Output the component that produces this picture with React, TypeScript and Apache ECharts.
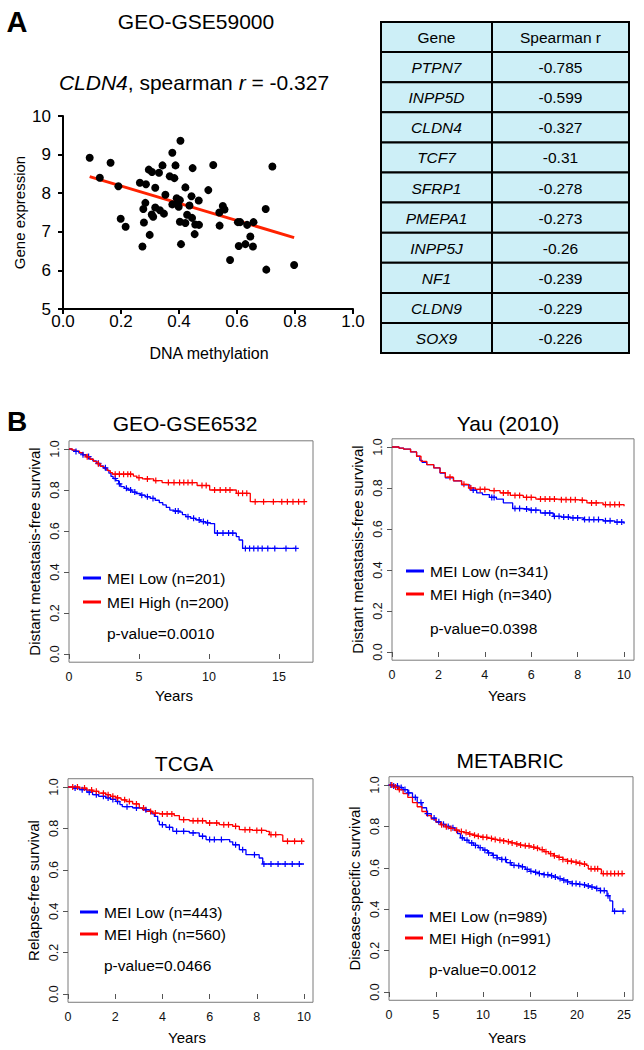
import React, { useEffect, useRef } from 'react';
import * as echarts from 'echarts';

const FONT = '"Liberation Sans", Arial, Helvetica, sans-serif';

// ---------- Panel A: scatter ----------
const methylation = [0.092, 0.127, 0.164, 0.191, 0.199, 0.216, 0.265, 0.286, 0.274, 0.277, 0.279, 0.284, 0.296, 0.307, 0.299, 0.306, 0.311, 0.318, 0.318, 0.331, 0.334, 0.343, 0.348, 0.353, 0.368, 0.377, 0.377, 0.384, 0.388, 0.392, 0.395, 0.399, 0.403, 0.405, 0.403, 0.407, 0.422, 0.422, 0.428, 0.436, 0.443, 0.445, 0.447, 0.454, 0.456, 0.469, 0.468, 0.501, 0.518, 0.539, 0.540, 0.551, 0.557, 0.576, 0.603, 0.606, 0.611, 0.629, 0.635, 0.646, 0.655, 0.657, 0.699, 0.701, 0.722, 0.797];
const expression = [8.92, 8.40, 8.79, 8.18, 7.34, 7.13, 8.27, 8.23, 6.62, 7.59, 7.24, 7.75, 8.61, 8.55, 6.92, 7.45, 7.39, 8.14, 7.63, 8.53, 7.56, 8.72, 7.47, 7.96, 8.44, 9.05, 7.71, 8.39, 8.72, 7.87, 7.74, 7.65, 7.82, 9.36, 7.26, 6.68, 8.15, 7.23, 7.44, 7.68, 7.92, 7.36, 8.65, 6.94, 7.19, 7.18, 7.81, 8.08, 8.73, 7.50, 7.16, 7.67, 7.58, 6.27, 7.25, 6.63, 7.25, 6.68, 7.18, 6.88, 6.62, 7.25, 7.59, 6.02, 8.69, 6.14];
const fitX = [0.092, 0.797];
const fitY = [8.43, 6.85];

const tableHeader = ['Gene', 'Spearman r'];
const tableGenes = ['PTPN7', 'INPP5D', 'CLDN4', 'TCF7', 'SFRP1', 'PMEPA1', 'INPP5J', 'NF1', 'CLDN9', 'SOX9'];
const tableR = ['-0.785', '-0.599', '-0.327', '-0.31', '-0.278', '-0.273', '-0.26', '-0.239', '-0.229', '-0.226'];

// ---------- Panel B: Kaplan-Meier ----------
const gseLow = [[0, 1], [0.2, 0.995], [0.45, 0.988], [0.7, 0.98], [0.95, 0.972], [1.2, 0.963], [1.45, 0.952], [1.7, 0.942], [1.95, 0.93], [2.2, 0.918], [2.45, 0.908], [2.65, 0.897], [2.85, 0.882], [3.0, 0.866], [3.15, 0.856], [3.35, 0.846], [3.55, 0.83], [3.7, 0.816], [3.95, 0.808], [4.2, 0.8], [4.5, 0.79], [4.8, 0.783], [5.1, 0.775], [5.45, 0.767], [5.8, 0.759], [6.15, 0.75], [6.45, 0.738], [6.7, 0.727], [6.95, 0.715], [7.2, 0.702], [7.5, 0.697], [7.9, 0.692], [8.1, 0.68], [8.35, 0.67], [8.7, 0.662], [9.05, 0.654], [9.4, 0.646], [9.75, 0.64], [10.1, 0.636], [10.4, 0.59], [11.95, 0.573], [12.15, 0.556], [12.4, 0.515], [16.2, 0.515]];
const gseHigh = [[0, 1], [0.25, 0.995], [0.5, 0.99], [0.75, 0.982], [1.0, 0.972], [1.25, 0.962], [1.5, 0.95], [1.75, 0.94], [2.0, 0.928], [2.25, 0.915], [2.5, 0.905], [2.75, 0.895], [2.95, 0.885], [3.1, 0.877], [4.6, 0.868], [4.85, 0.86], [5.25, 0.854], [6.05, 0.846], [6.65, 0.836], [9.15, 0.822], [10.05, 0.8], [11.95, 0.784], [12.95, 0.743], [16.8, 0.743]];
const gseLowCens = [0.5, 1.0, 1.4, 2.1, 2.6, 3.3, 3.6, 4.1, 4.4, 4.7, 5.2, 5.6, 6.0, 7.6, 7.8, 8.5, 8.9, 9.3, 9.6, 9.9, 10.6, 11.0, 11.4, 11.7, 12.6, 12.9, 13.2, 13.5, 13.8, 14.2, 14.7, 15.5, 16.2];
const gseHighCens = [1.3, 2.1, 3.3, 3.6, 3.9, 4.2, 4.4, 5.0, 5.6, 6.2, 7.1, 7.5, 7.9, 8.2, 8.5, 8.8, 9.5, 9.8, 10.4, 10.8, 11.2, 11.5, 12.1, 12.4, 12.7, 13.3, 13.9, 14.6, 15.2, 15.6, 16.0, 16.4, 16.8];

const yauLow = [[0, 1], [0.3, 0.995], [0.5, 0.99], [0.8, 0.976], [1.06, 0.955], [1.2, 0.935], [1.3, 0.925], [1.5, 0.914], [1.8, 0.898], [2.07, 0.873], [2.3, 0.85], [2.65, 0.835], [3.0, 0.815], [3.36, 0.79], [3.65, 0.776], [3.9, 0.768], [4.2, 0.754], [4.5, 0.746], [4.8, 0.727], [5.2, 0.7], [5.6, 0.697], [5.95, 0.692], [6.4, 0.678], [6.95, 0.662], [7.3, 0.658], [7.67, 0.654], [8.25, 0.646], [9.1, 0.64], [9.6, 0.634], [10.0, 0.626]];
const yauHigh = [[0, 1], [0.3, 0.995], [0.5, 0.99], [0.8, 0.976], [1.06, 0.955], [1.25, 0.93], [1.5, 0.914], [1.8, 0.898], [2.07, 0.875], [2.3, 0.853], [2.65, 0.835], [3.0, 0.818], [3.3, 0.8], [3.6, 0.793], [4.2, 0.787], [4.66, 0.776], [5.1, 0.764], [5.66, 0.754], [6.2, 0.746], [7.1, 0.743], [7.96, 0.74], [8.4, 0.727], [9.1, 0.719], [10.0, 0.711]];
const yauLowCens = [3.5, 4.3, 4.4, 5.3, 5.5, 5.8, 6.0, 6.2, 6.6, 6.8, 7.0, 7.2, 7.4, 7.6, 7.8, 8.0, 8.3, 8.5, 8.7, 8.9, 9.2, 9.4, 9.7, 9.9];
const yauHighCens = [2.5, 3.1, 3.4, 3.8, 4.0, 4.4, 4.8, 5.0, 5.3, 5.5, 5.8, 6.0, 6.4, 6.6, 6.8, 7.0, 7.3, 7.5, 7.7, 7.9, 8.2, 8.6, 8.8, 9.2, 9.4, 9.6, 9.8];

const tcgaLow = [[0, 1], [0.2, 0.995], [0.48, 0.987], [0.8, 0.975], [1.04, 0.963], [1.3, 0.955], [1.6, 0.947], [1.8, 0.94], [2.03, 0.93], [2.2, 0.915], [2.3, 0.905], [2.74, 0.899], [3.16, 0.89], [3.45, 0.882], [3.55, 0.87], [3.66, 0.858], [3.8, 0.835], [3.87, 0.818], [4.15, 0.805], [4.44, 0.786], [5.14, 0.778], [5.56, 0.762], [5.85, 0.746], [6.85, 0.735], [6.98, 0.721], [7.26, 0.697], [7.54, 0.673], [8.1, 0.657], [8.25, 0.628], [10.0, 0.628]];
const tcgaHigh = [[0, 1], [0.48, 0.995], [0.8, 0.985], [1.04, 0.979], [1.3, 0.97], [1.6, 0.963], [1.8, 0.955], [2.03, 0.947], [2.25, 0.938], [2.46, 0.93], [2.74, 0.918], [3.02, 0.898], [3.3, 0.882], [3.59, 0.874], [3.87, 0.87], [4.5, 0.862], [4.72, 0.842], [5.14, 0.837], [5.85, 0.826], [6.41, 0.818], [6.98, 0.81], [7.26, 0.794], [7.82, 0.79], [8.4, 0.786], [8.53, 0.77], [9.0, 0.767], [9.1, 0.738], [10.0, 0.738]];
const tcgaLowCens = [0.3, 0.6, 0.9, 1.2, 1.5, 1.7, 1.9, 2.1, 2.5, 2.9, 3.3, 4.0, 4.3, 4.6, 4.9, 5.3, 5.7, 6.0, 6.2, 6.5, 7.1, 7.4, 7.9, 8.3, 8.6, 8.9, 9.2, 9.5, 9.8];
const tcgaHighCens = [0.2, 0.4, 0.7, 1.0, 1.2, 1.5, 1.7, 1.9, 2.1, 2.4, 2.6, 2.9, 3.2, 3.5, 3.7, 4.0, 4.2, 4.4, 4.9, 5.3, 5.5, 5.7, 6.0, 6.3, 6.6, 6.8, 7.1, 7.5, 7.7, 8.0, 8.2, 8.6, 8.8, 9.3, 9.6, 9.9];

const metaLow = [[0, 1], [0.5, 0.995], [1.0, 0.988], [1.5, 0.978], [2.0, 0.962], [2.5, 0.94], [3.0, 0.915], [3.5, 0.89], [4.0, 0.862], [4.5, 0.84], [5.0, 0.822], [5.5, 0.81], [6.0, 0.8], [6.5, 0.793], [7.0, 0.78], [7.3, 0.765], [7.6, 0.745], [8.0, 0.733], [8.5, 0.72], [9.0, 0.708], [9.5, 0.697], [10.0, 0.685], [10.5, 0.672], [11.0, 0.66], [11.5, 0.648], [12.0, 0.64], [12.5, 0.625], [13.0, 0.612], [13.5, 0.61], [14.0, 0.605], [14.5, 0.592], [15.0, 0.583], [15.5, 0.578], [16.0, 0.572], [16.5, 0.567], [17.0, 0.562], [17.5, 0.555], [18.0, 0.548], [18.5, 0.54], [19.0, 0.532], [19.5, 0.524], [20.0, 0.52], [20.5, 0.517], [21.0, 0.512], [21.5, 0.507], [22.0, 0.5], [22.5, 0.49], [23.0, 0.488], [23.2, 0.465], [23.5, 0.44], [23.8, 0.39], [25.0, 0.386]];
const metaHigh = [[0, 1], [0.5, 0.99], [1.0, 0.978], [1.5, 0.958], [2.0, 0.94], [2.5, 0.915], [3.0, 0.895], [3.5, 0.872], [4.0, 0.852], [4.5, 0.835], [5.0, 0.82], [5.5, 0.808], [6.0, 0.798], [6.5, 0.79], [7.0, 0.782], [7.5, 0.775], [8.0, 0.77], [8.5, 0.763], [9.0, 0.757], [9.5, 0.752], [10.0, 0.747], [10.5, 0.742], [11.0, 0.737], [11.5, 0.733], [12.0, 0.73], [12.5, 0.726], [13.0, 0.72], [13.5, 0.715], [14.0, 0.71], [14.5, 0.706], [15.0, 0.7], [15.5, 0.695], [16.0, 0.688], [16.5, 0.678], [17.0, 0.668], [17.5, 0.658], [18.0, 0.65], [18.5, 0.64], [19.0, 0.632], [19.5, 0.627], [20.0, 0.622], [20.5, 0.618], [21.0, 0.612], [21.2, 0.595], [22.3, 0.593], [22.6, 0.572], [25.0, 0.572]];
const metaLowCens = [0.2, 0.5, 0.9, 1.3, 1.7, 2.1, 2.8, 3.4, 4.1, 4.8, 5.3, 5.8, 6.3, 6.8, 7.8, 8.3, 8.8, 9.2, 9.7, 10.2, 10.6, 11.1, 11.5, 12.0, 12.4, 12.9, 13.3, 13.8, 14.2, 14.7, 15.1, 15.6, 16.0, 16.5, 16.9, 17.3, 17.7, 18.2, 18.6, 19.0, 19.5, 19.9, 20.3, 20.8, 21.2, 21.6, 22.1, 22.5, 22.9, 23.3, 24.0, 24.9];
const metaHighCens = [0.3, 0.7, 1.1, 5.6, 6.1, 6.6, 7.2, 7.7, 8.2, 8.6, 9.1, 9.5, 10.0, 10.4, 10.9, 11.3, 11.8, 12.2, 12.7, 13.1, 13.6, 14.0, 14.5, 14.9, 15.4, 15.8, 16.3, 16.7, 17.2, 17.6, 18.1, 18.5, 19.0, 19.4, 19.9, 20.3, 20.8, 21.5, 21.9, 22.2, 22.8, 23.2, 23.6, 24.0, 24.4, 24.8];

const survTicks = [0, 0.2, 0.4, 0.6, 0.8, 1.0];

const BLUE = '#0000ff';
const RED = '#ff0000';
const CROSS = 'path://M0,5L10,5M5,0L5,10';

function stepAt(curve: number[][], t: number) {
  let v = curve[0][1];
  for (const p of curve) {
    if (p[0] <= t) v = p[1];
    else break;
  }
  return v;
}

const panels = [
  { title: 'GEO-GSE6532', titleX: 185, titleY: 423, left: 69, scale: 205, one: 449, width: 244, xMax: 17.43, xTicks: [0, 5, 10, 15], ylabel: 'Distant metastasis-free survival', low: gseLow, high: gseHigh, lowC: gseLowCens, highC: gseHighCens, nLow: 'MEI Low (n=201)', nHigh: 'MEI High (n=200)', p: 'p-value=0.0010', legX: 83, legY: 578, legGap: 24, pY: 633, yearsX: 174, yearsY: 695 },
  { title: 'Yau (2010)', titleX: 508, titleY: 423, left: 392, scale: 205, one: 447, width: 242, xMax: 10.43, xTicks: [0, 2, 4, 6, 8, 10], ylabel: 'Distant metastasis-free survival', low: yauLow, high: yauHigh, lowC: yauLowCens, highC: yauHighCens, nLow: 'MEI Low (n=341)', nHigh: 'MEI High (n=340)', p: 'p-value=0.0398', legX: 406, legY: 571, legGap: 23, pY: 628, yearsX: 507, yearsY: 695 },
  { title: 'TCGA', titleX: 184, titleY: 763, left: 68, scale: 207, one: 787, width: 245, xMax: 10.38, xTicks: [0, 2, 4, 6, 8, 10], ylabel: 'Relapse-free survival', low: tcgaLow, high: tcgaHigh, lowC: tcgaLowCens, highC: tcgaHighCens, nLow: 'MEI Low (n=443)', nHigh: 'MEI High (n=560)', p: 'p-value=0.0466', legX: 80, legY: 912, legGap: 22, pY: 965, yearsX: 187, yearsY: 1037 },
  { title: 'METABRIC', titleX: 510, titleY: 760, left: 389, scale: 207, one: 785, width: 244, xMax: 25.96, xTicks: [0, 5, 10, 15, 20, 25], ylabel: 'Disease-specific survival', low: metaLow, high: metaHigh, lowC: metaLowCens, highC: metaHighCens, nLow: 'MEI Low (n=989)', nHigh: 'MEI High (n=991)', p: 'p-value=0.0012', legX: 405, legY: 916, legGap: 22, pY: 969, yearsX: 507, yearsY: 1037 },
];

function text(x: number, y: number, s: string, size: number, extra: any = {}) {
  return {
    type: 'text',
    x,
    y,
    z: 100,
    style: {
      text: s,
      fontSize: size,
      fontFamily: FONT,
      fill: '#000',
      align: extra.align || 'center',
      textAlign: extra.align || 'center',
      verticalAlign: 'middle',
      textVerticalAlign: 'middle',
      fontStyle: extra.fontStyle || 'normal',
      fontWeight: extra.fontWeight || 'normal',
      ...(extra.rich ? { rich: extra.rich } : {}),
    },
  };
}

function buildOption() {
  const grids: any[] = [];
  const xAxes: any[] = [];
  const yAxes: any[] = [];
  const series: any[] = [];
  const graphic: any[] = [];

  // Panel A scatter grid
  grids.push({ left: 63, top: 116, width: 290, height: 193, show: false });
  xAxes.push({
    gridIndex: 0, type: 'value', min: 0, max: 1, interval: 0.2,
    axisLine: { show: true, lineStyle: { color: '#000', width: 2 } },
    axisTick: { show: true, length: 5, lineStyle: { color: '#000', width: 2 } },
    axisLabel: { fontSize: 17, lineHeight: 13, fontFamily: FONT, color: '#000', margin: 6, formatter: (v: number) => v.toFixed(1) },
    splitLine: { show: false },
  });
  yAxes.push({
    gridIndex: 0, type: 'value', min: 5, max: 10, interval: 1,
    axisLine: { show: true, lineStyle: { color: '#000', width: 2 } },
    axisTick: { show: true, length: 5, lineStyle: { color: '#000', width: 2 } },
    axisLabel: { fontSize: 17, lineHeight: 13, fontFamily: FONT, color: '#000', margin: 12 },
    splitLine: { show: false },
    name: 'Gene expression', nameLocation: 'middle', nameGap: 36,
    nameTextStyle: { fontSize: 15, fontFamily: FONT, color: '#000' },
  });
  series.push({
    type: 'line', xAxisIndex: 0, yAxisIndex: 0, z: 2,
    data: fitX.map((x, i) => [x, fitY[i]]),
    showSymbol: false, lineStyle: { color: '#ff2200', width: 3 },
  });
  series.push({
    type: 'scatter', xAxisIndex: 0, yAxisIndex: 0, z: 3,
    data: methylation.map((x, i) => [x, expression[i]]),
    symbolSize: 8, itemStyle: { color: '#000', opacity: 1 },
  });

  graphic.push(text(17, 22, 'A', 29, { fontWeight: 'bold' }));
  graphic.push(text(196, 21, 'GEO-GSE59000', 21));
  graphic.push(text(194, 82, '{i|CLDN4}, spearman {i|r} = -0.327', 21, {
    rich: { i: { fontStyle: 'italic', fontSize: 21, fontFamily: FONT, fill: '#000' } },
  }));
  graphic.push(text(209, 353, 'DNA methylation', 16));

  // Table
  const tx = [381, 492, 629];
  const ty0 = 22;
  const rh = 30.1;
  const rows = [tableHeader].concat(tableGenes.map((g, i) => [g, tableR[i]]));
  rows.forEach((r, ri) => {
    for (let c = 0; c < 2; c++) {
      graphic.push({
        type: 'rect', z: 90,
        shape: { x: tx[c], y: ty0 + ri * rh, width: tx[c + 1] - tx[c], height: rh },
        style: { fill: '#cdeff7', stroke: '#000', lineWidth: 2 },
      });
      graphic.push(text((tx[c] + tx[c + 1]) / 2, ty0 + ri * rh + rh / 2 + 0.5, r[c], 15.5, {
        fontStyle: ri > 0 && c === 0 ? 'italic' : 'normal',
      }));
    }
  });

  // Panel B
  graphic.push(text(17, 421, 'B', 28, { fontWeight: 'bold' }));
  panels.forEach((p, i) => {
    const gi = i + 1;
    const top = p.one - 0.04 * p.scale;
    const height = 1.08 * p.scale;
    grids.push({ left: p.left, top, width: p.width, height, show: true, borderColor: '#7a7a7a', borderWidth: 1 });
    xAxes.push({
      gridIndex: gi, type: 'value', min: 0, max: p.xMax,
      axisLine: { show: false },
      axisTick: { show: true, length: 5, customValues: p.xTicks, lineStyle: { color: '#555' } },
      axisLabel: { customValues: p.xTicks, fontSize: 12.5, fontFamily: FONT, color: '#111', margin: 8 },
      splitLine: { show: false },
    });
    yAxes.push({
      gridIndex: gi, type: 'value', min: -0.04, max: 1.04,
      axisLine: { show: false },
      axisTick: { show: true, length: 5, customValues: survTicks, lineStyle: { color: '#555' } },
      axisLabel: { customValues: survTicks, rotate: 90, fontSize: 12.5, fontFamily: FONT, color: '#111', margin: 8, formatter: (v: number) => v.toFixed(1) },
      splitLine: { show: false },
      name: p.ylabel, nameLocation: 'middle', nameGap: 27,
      nameTextStyle: { fontSize: 15, fontFamily: FONT, color: '#000' },
    });
    const curves = [
      { d: p.low, c: p.lowC, col: BLUE },
      { d: p.high, c: p.highC, col: RED },
    ];
    curves.forEach((cv) => {
      series.push({
        type: 'line', xAxisIndex: gi, yAxisIndex: gi, step: 'end', z: 3,
        data: cv.d, showSymbol: false, symbol: 'none',
        lineStyle: { color: cv.col, width: 1.3 },
      });
      series.push({
        type: 'scatter', xAxisIndex: gi, yAxisIndex: gi, z: 4,
        data: cv.c.map((t) => [t, stepAt(cv.d, t)]),
        symbol: CROSS, symbolSize: 6,
        itemStyle: { color: 'rgba(0,0,0,0)', borderColor: cv.col, borderWidth: 1.2, opacity: 1 },
      });
    });
    graphic.push(text(p.titleX, p.titleY, p.title, 21));
    graphic.push(text(p.yearsX, p.yearsY, 'Years', 15));
    graphic.push({ type: 'line', z: 100, shape: { x1: p.legX, y1: p.legY, x2: p.legX + 18, y2: p.legY }, style: { stroke: BLUE, lineWidth: 3 } });
    graphic.push({ type: 'line', z: 100, shape: { x1: p.legX, y1: p.legY + p.legGap, x2: p.legX + 18, y2: p.legY + p.legGap }, style: { stroke: RED, lineWidth: 3 } });
    graphic.push(text(p.legX + 24, p.legY, p.nLow, 15.5, { align: 'left' }));
    graphic.push(text(p.legX + 24, p.legY + p.legGap, p.nHigh, 15.5, { align: 'left' }));
    graphic.push(text(p.legX + 24, p.pY, p.p, 15.5, { align: 'left' }));
  });

  return {
    animation: false,
    backgroundColor: '#fff',
    textStyle: { fontFamily: FONT },
    grid: grids,
    xAxis: xAxes,
    yAxis: yAxes,
    series,
    graphic: { elements: graphic },
  };
}

export default function App() {
  const ref = useRef<HTMLDivElement>(null);
  useEffect(() => {
    document.body.style.margin = '0';
    if (!ref.current) return;
    const chart = echarts.init(ref.current, undefined, { renderer: 'svg' });
    chart.setOption(buildOption() as any);
    return () => chart.dispose();
  }, []);
  return <div ref={ref} style={{ width: 644, height: 1050 }} />;
}
